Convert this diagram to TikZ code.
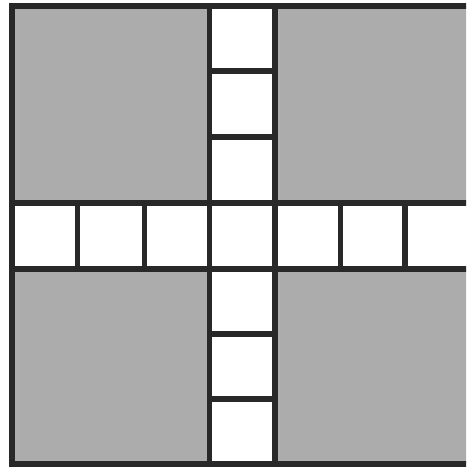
\documentclass[tikz,border=0pt]{standalone}
\definecolor{panelgray}{RGB}{172,172,172}
\definecolor{inkline}{RGB}{40,40,40}
\tikzset{
  grayfield/.style={fill=panelgray, draw=none},
  gridline/.style={draw=inkline, line width=5.5pt},
  frameline/.style={draw=inkline, line width=6pt}
}
\begin{document}
\begin{tikzpicture}[x=1pt,y=-1pt]
\useasboundingbox (0,0) rectangle (466,468);
\fill[white] (0,0) rectangle (466,468);
\begin{scope}
\clip (0,0) rectangle (466,468);
% gray fields
\fill[grayfield] (12,6) rectangle (209.5,203);
\fill[grayfield] (275,6) rectangle (471,203);
\fill[grayfield] (12,269) rectangle (209.5,464);
\fill[grayfield] (275,269) rectangle (471,464);
% central column lines
\foreach \y in {71,137,203,269,334,399} {
  \draw[gridline] (209.5,\y) -- (275,\y);
}
\draw[gridline] (209.5,6) -- (209.5,464);
\draw[gridline] (275,6) -- (275,464);
% central row lines
\draw[gridline] (12,203) -- (471,203);
\draw[gridline] (12,269) -- (471,269);
\foreach \x in {77.5,144.5,340.5,405} {
  \draw[gridline] (\x,203) -- (\x,269);
}
% outer frame
\draw[frameline] (12,6) rectangle (471,464);
\end{scope}
\end{tikzpicture}
\end{document}
